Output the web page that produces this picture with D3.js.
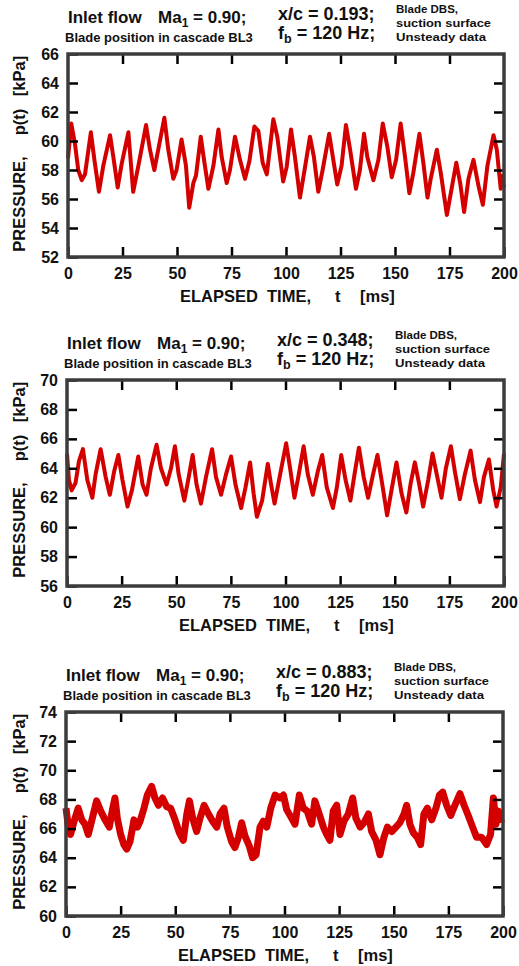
<!DOCTYPE html>
<html>
<head>
<meta charset="utf-8">
<script src="https://cdn.jsdelivr.net/npm/d3@7"></script>
<style>
body { margin: 0; background: #fff; }
text { font-family: "Liberation Sans", Arial, sans-serif; font-weight: bold; fill: #111; }
</style>
</head>
<body>
<svg id="drawing_region"></svg>
<script>
// values
const xTicks = [0, 25, 50, 75, 100, 125, 150, 175, 200];
const yTicks1 = [52, 54, 56, 58, 60, 62, 64, 66];
const yTicks2 = [56, 58, 60, 62, 64, 66, 68, 70];
const yTicks3 = [60, 62, 64, 66, 68, 70, 72, 74];
const positions = ['0.193', '0.348', '0.883'];

// [t ms, p kPa]
const series1 = [[0,58.8],[1.5,61.2],[3.2,59.8],[4.7,58.0],[6.3,57.3],[7.8,57.7],[10.5,60.6],[12.1,58.7],[14.2,56.5],[16.2,58.3],[19.3,60.4],[20.8,58.9],[22.8,56.8],[24.6,58.4],[27.7,60.6],[29.9,56.5],[32.3,58.3],[35.8,61.1],[37.6,59.4],[39.6,58.0],[41.4,59.4],[44.2,61.6],[46.0,59.4],[48.3,57.4],[49.8,58.0],[52.1,60.1],[54.1,58.3],[55.6,55.4],[57.5,57.1],[58.7,57.6],[60.9,60.3],[62.4,58.7],[64.4,56.7],[66.7,58.3],[69.0,60.8],[70.5,58.9],[72.8,57.1],[74.3,58.0],[76.6,60.3],[78.9,58.7],[81.2,57.4],[83.2,58.6],[85.5,61.0],[87.3,60.7],[89.3,58.5],[91.2,57.7],[94.2,61.5],[96.0,60.3],[98.7,57.2],[100.3,58.2],[102.3,60.8],[104.1,58.9],[106.4,56.1],[108.3,57.8],[111.0,60.3],[112.8,58.9],[114.8,56.5],[116.8,58.0],[119.8,60.5],[121.7,58.7],[123.5,57.0],[125.5,58.3],[127.5,61.1],[129.4,59.4],[132.1,56.7],[133.9,58.0],[135.8,60.5],[137.3,58.9],[140.1,57.3],[142.4,58.7],[144.4,61.2],[146.5,59.6],[148.5,57.5],[150.5,58.7],[152.6,61.2],[154.6,58.9],[156.6,56.4],[158.4,57.8],[161.2,60.5],[163.0,58.5],[164.9,56.1],[166.4,57.4],[169.2,59.4],[171.0,57.8],[173.8,54.9],[175.6,56.4],[178.1,58.5],[179.9,57.1],[181.7,55.1],[183.7,57.4],[186.0,58.7],[188.3,56.9],[190.3,55.6],[192.4,58.3],[195.2,60.4],[196.7,59.4],[198.5,56.7],[199.0,57.6],[200,56.8]];

const series2 = [[0,65.0],[0.9,63.2],[2.1,62.5],[3.9,63.0],[5.5,64.5],[7.3,65.3],[9.3,63.2],[11.6,62.0],[13.1,63.6],[15.4,65.3],[17.7,63.4],[19.6,62.2],[21.6,63.8],[23.5,64.9],[25.4,63.2],[27.7,61.4],[29.7,62.5],[32.6,64.8],[34.6,62.9],[36.4,62.2],[38.4,64.0],[41.0,65.6],[43.0,64.0],[45.6,62.9],[47.6,64.0],[49.4,65.5],[51.1,63.6],[53.7,61.8],[55.7,63.4],[57.5,64.9],[59.3,62.9],[61.3,61.6],[63.6,63.4],[66.4,65.3],[68.2,63.4],[70.5,62.2],[72.8,63.6],[75.1,64.8],[77.1,62.9],[79.7,61.3],[81.7,62.7],[83.8,64.4],[85.4,62.3],[86.9,60.7],[89.3,61.8],[91.9,64.3],[93.4,62.9],[95.0,61.6],[97.3,63.4],[100.3,65.7],[102.1,64.0],[104.1,62.0],[106.1,63.6],[108.3,65.5],[110.2,63.6],[112.5,62.2],[114.8,63.8],[116.8,64.9],[118.9,62.7],[121.7,61.3],[123.5,62.7],[125.5,64.9],[127.5,63.2],[129.7,61.8],[131.6,63.6],[133.6,65.4],[135.8,63.4],[137.8,62.0],[140.1,63.6],[142.1,64.9],[144.3,62.9],[146.5,60.8],[148.5,62.5],[150.8,64.4],[153.1,62.3],[155.3,61.0],[157.2,62.9],[159.2,64.4],[161.2,62.9],[163.0,61.4],[165.3,63.2],[167.3,65.0],[169.2,63.6],[171.4,62.0],[173.4,64.0],[175.7,65.5],[177.5,63.8],[179.8,61.9],[182.1,63.6],[184.7,65.2],[186.7,63.2],[189.0,61.7],[190.8,63.4],[193.1,64.6],[195.1,62.5],[196.6,61.4],[198.5,62.7],[200,65.0]];

const series3 = [[0,67.4],[1.1,66.1],[2.1,65.6],[3.7,66.5],[5.6,67.4],[7.2,66.6],[8.7,66.3],[10.2,65.6],[11.7,66.5],[14.0,67.9],[15.9,67.2],[17.9,66.6],[19.8,66.1],[21.4,67.4],[22.4,68.1],[23.5,66.7],[25.0,65.6],[26.5,64.9],[27.8,64.6],[29.3,65.1],[31.1,66.6],[32.7,66.1],[33.9,66.5],[35.7,67.4],[37.2,68.3],[39.2,68.9],[40.7,68.1],[42.3,67.6],[44.2,68.1],[46.1,67.5],[47.9,67.4],[49.9,66.6],[51.9,65.7],[53.7,65.2],[55.3,67.0],[56.5,67.9],[58.0,66.7],[59.8,65.8],[61.3,66.7],[63.2,67.6],[65.2,67.0],[67.1,66.5],[69.0,66.1],[70.5,67.0],[72.3,67.4],[73.8,66.1],[75.8,65.1],[77.3,64.7],[78.9,65.4],[80.4,66.4],[81.9,65.5],[83.9,64.8],[85.4,64.0],[87.0,64.2],[88.8,66.1],[90.3,66.5],[91.9,66.1],[93.7,67.4],[95.7,68.3],[98.0,68.1],[99.5,68.3],[101.0,67.3],[103.3,66.7],[104.8,66.3],[106.8,68.3],[108.6,67.4],[110.4,67.2],[112.4,66.3],[113.9,67.9],[115.9,67.0],[117.8,66.1],[119.3,65.6],[120.8,65.2],[122.3,67.2],[123.9,67.6],[125.4,65.6],[127.2,66.5],[129.2,67.0],[131.2,68.1],[132.7,66.7],[134.6,66.1],[136.4,66.4],[138.4,67.0],[139.9,65.8],[141.9,65.2],[143.7,64.2],[145.5,65.4],[147.1,66.1],[149.1,65.8],[151.0,66.1],[152.8,66.4],[154.7,67.0],[155.9,67.6],[157.4,66.3],[159.0,65.7],[160.8,65.4],[162.3,64.9],[163.8,67.0],[165.4,67.4],[167.4,66.6],[169.3,67.4],[170.9,68.3],[172.4,68.5],[174.2,67.6],[176.1,66.9],[178.0,67.6],[180.3,68.4],[182.2,67.6],[184.1,66.9],[186.1,66.1],[187.9,65.4],[190.2,65.4],[192.5,64.9],[194.3,65.6],[195.6,68.1],[196.8,66.3],[197.9,67.2],[199.3,66.4]];

const svg = d3.select('#drawing_region')
    .attr('width', 519)
    .attr('height', 966);

class PressurePanel {

    constructor( config, data ) {
        this.config = config;
        this.data = data;
        this.init();
    }

    init() {
        let self = this;
        const c = self.config;

        self.chart = svg.append('g')
            .attr('transform', `translate(${c.left}, ${c.top})`);

        self.inner_width = c.right - c.left;
        self.inner_height = c.bottom - c.top;

        self.xscale = d3.scaleLinear()
            .domain( [0, 200] )
            .range( [0, self.inner_width] );

        self.yscale = d3.scaleLinear()
            .domain( d3.extent(c.yticks) )
            .range( [self.inner_height, 0] );

        self.header();
    }

    header() {
        let self = this;
        const c = self.config;
        const g = svg.append('g')
            .attr('transform', `translate(${c.left}, ${c.top})`);

        g.append('text').attr('x', 0).attr('y', -31.5)
            .style('font-size', '17px').text('Inlet flow');
        const ma = g.append('text').attr('x', 90).attr('y', -31.5).style('font-size', '17px');
        ma.append('tspan').text('Ma');
        ma.append('tspan').attr('dy', 4).style('font-size', '12px').text('1');
        ma.append('tspan').attr('dy', -4).text(' = 0.90;');

        g.append('text').attr('x', -3).attr('y', -12.5)
            .style('font-size', '13px').text('Blade position in cascade BL3');

        g.append('text').attr('x', 210).attr('y', -34.5)
            .style('font-size', '18px').text(`x/c = ${c.position};`);
        const fb = g.append('text').attr('x', 210).attr('y', -15.5).style('font-size', '18px');
        fb.append('tspan').text('f');
        fb.append('tspan').attr('dy', 4).style('font-size', '12.5px').text('b');
        fb.append('tspan').attr('dy', -4).text(' = 120 Hz;');

        // three short note lines, kept tight like the original
        ['Blade DBS,', 'suction surface', 'Unsteady data'].forEach( (s, i) => {
            g.append('text').attr('x', 328).attr('y', [-41, -27.5, -13][i])
                .style('font-size', '11.6px')
                .attr('textLength', [62, 95, 90][i])
                .attr('lengthAdjust', 'spacingAndGlyphs')
                .text(s);
        });
    }

    render() {
        let self = this;
        const w = self.inner_width, h = self.inner_height;

        const line = d3.line()
            .x( d => self.xscale( d[0] ) )
            .y( d => self.yscale( d[1] ) );

        self.chart.append('path')
            .datum(self.data)
            .attr('d', line)
            .attr('fill', 'none')
            .attr('stroke', '#d40000')
            .attr('stroke-width', self.config.lineWidth)
            .attr('stroke-linejoin', 'round');

        const inner = [25, 50, 75, 100, 125, 150, 175];

        const xaxis = d3.axisBottom( self.xscale ).tickValues( xTicks )
            .tickSize(-10).tickPadding(11);
        const xtop = d3.axisTop( self.xscale ).tickValues( inner )
            .tickSize(-10).tickFormat('');
        const yaxis = d3.axisLeft( self.yscale ).tickValues( self.config.yticks )
            .tickSize(-10).tickPadding(9);
        const yright = d3.axisRight( self.yscale ).tickValues( self.config.yticks.slice(1, -1) )
            .tickSize(-10).tickFormat('');

        self.chart.append('g').attr('transform', `translate(0, ${h})`).call( xaxis );
        self.chart.append('g').call( xtop );
        self.chart.append('g').call( yaxis );
        self.chart.append('g').attr('transform', `translate(${w}, 0)`).call( yright );

        self.chart.selectAll('.domain').remove();
        self.chart.selectAll('.tick line')
            .attr('stroke', '#000')
            .attr('stroke-width', 2.5);
        self.chart.selectAll('.tick text')
            .style('font-family', '"Liberation Sans", Arial, sans-serif')
            .style('font-weight', 'bold')
            .style('font-size', '16px')
            .attr('fill', '#111');

        self.chart.append('rect')
            .attr('width', w)
            .attr('height', h)
            .attr('fill', 'none')
            .attr('stroke', '#3c3c3c')
            .attr('stroke-width', 3.5);

        // axis titles
        const xl = [['ELAPSED', 112], ['TIME,', 199], ['t', 267], ['[ms]', 292]];
        xl.forEach( d => {
            self.chart.append('text')
                .attr('x', d[1])
                .attr('y', h + 45)
                .style('font-size', '16.5px')
                .text(d[0]);
        });

        const yl = [['PRESSURE,', 150], ['p(t)', 68], ['[kPa]', 22]];
        yl.forEach( d => {
            self.chart.append('text')
                .attr('transform', `translate(${25 - self.config.left}, ${d[1]}) rotate(-90)`)
                .attr('text-anchor', 'middle')
                .style('font-size', '16.5px')
                .text(d[0]);
        });
    }
}

const panels = [
    { top: 54, bottom: 257, left: 68, right: 504, yticks: yTicks1, position: positions[0], lineWidth: 4 },
    { top: 380, bottom: 586, left: 67, right: 504, yticks: yTicks2, position: positions[1], lineWidth: 4 },
    { top: 712, bottom: 916, left: 66, right: 503, yticks: yTicks3, position: positions[2], lineWidth: 7 }
];
const allSeries = [series1, series2, series3];

panels.forEach( (cfg, i) => {
    const p = new PressurePanel( cfg, allSeries[i] );
    p.render();
});
</script>
</body>
</html>
